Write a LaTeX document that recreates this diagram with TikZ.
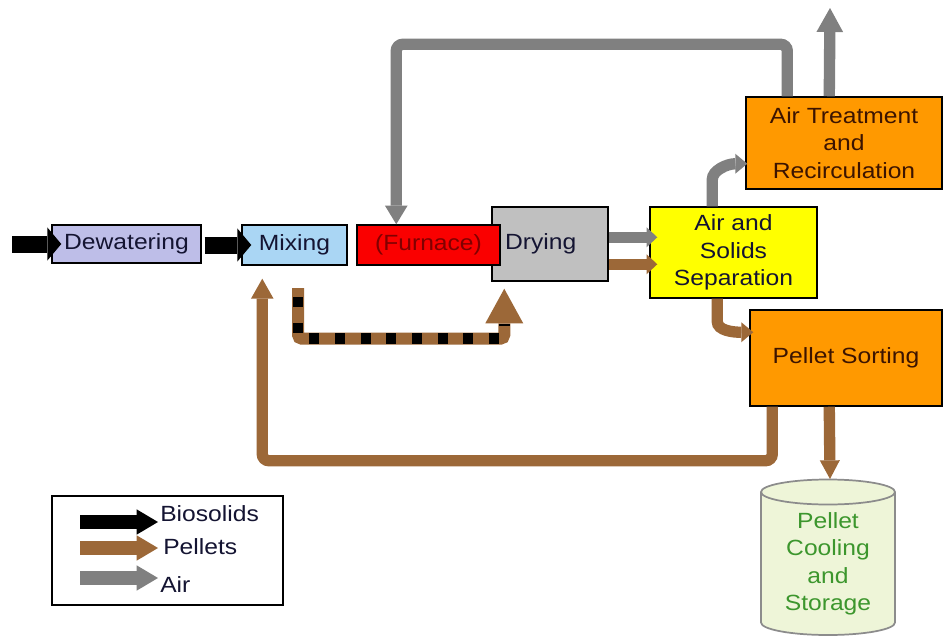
\documentclass[tikz,border=0pt]{standalone}
\usepackage{fontspec}
\setmainfont{Liberation Sans}[FakeStretch=1.12]
\usetikzlibrary{arrows.meta,calc}
\definecolor{brn}{RGB}{156,104,56}
\definecolor{gry}{RGB}{128,128,128}
\definecolor{dewfill}{RGB}{190,190,232}
\definecolor{mixfill}{RGB}{170,214,244}
\definecolor{furnfill}{RGB}{250,0,0}
\definecolor{furntext}{RGB}{128,0,0}
\definecolor{dryfill}{RGB}{192,192,192}
\definecolor{sepfill}{RGB}{255,255,0}
\definecolor{orng}{RGB}{255,153,0}
\definecolor{orngtext}{RGB}{60,20,0}
\definecolor{cylfill}{RGB}{238,245,216}
\definecolor{cylline}{RGB}{140,140,140}
\definecolor{cyltext}{RGB}{60,150,45}
\definecolor{navytext}{RGB}{20,20,50}
\begin{document}
\begin{tikzpicture}[x=0.75pt,y=-0.75pt,
  box/.style={draw=black, line width=1.1pt, inner sep=0pt, align=center,
    text=navytext, font=\fontsize{16.5}{20.6}\selectfont},
  lbl/.style={inner sep=0pt, text=navytext, font=\fontsize{16.5}{20.6}\selectfont},
  blkarrow/.style={line width=12.75pt, draw=black, -{Triangle[width=25pt,length=10.5pt,line width=0pt]}},
  gryflow/.style={line width=8.5pt, draw=gry, rounded corners=5pt},
  brnflow/.style={line width=8.5pt, draw=brn, rounded corners=5pt},
  legarrow/.style={line width=11pt, -{Triangle[width=19pt,length=16pt,line width=0pt]}}]
\useasboundingbox[fill=white] (0,0) rectangle (943,639);

% process boxes
\node[box, fill=dewfill, minimum width=111.75pt, minimum height=28.5pt] (dew) at (126.5,244) {Dewatering};
\node[box, fill=mixfill, minimum width=78.75pt, minimum height=30pt] (mix) at (294.5,245) {Mixing};
\node[box, fill=dryfill, minimum width=87pt, minimum height=55.5pt] (dry) at (550,244) {\hspace*{6pt}Drying\hspace*{20pt}};
\node[box, fill=furnfill, text=furntext, minimum width=107.25pt, minimum height=30pt] (furn) at (428.5,245) {(Furnace)};
\node[box, fill=sepfill, minimum width=125.25pt, minimum height=68.25pt] (sep) at (733.5,252.5) {Air and\\Solids\\Separation};
\node[box, fill=orng, text=orngtext, minimum width=147pt, minimum height=69pt] (air) at (844,143) {Air Treatment\\and\\Recirculation};
\node[box, fill=orng, text=orngtext, minimum width=144pt, minimum height=72pt] (sort) at (846,358) {Pellet Sorting};

% storage cylinder
\fill[cylfill] (761,492) rectangle (895,622.5);
\fill[cylfill] (828,622.5) ellipse [x radius=67, y radius=12.5];
\draw[cylline, line width=1.3pt] (761,492) -- (761,622.5)
  arc[start angle=180, end angle=0, x radius=67, y radius=12.5] -- (895,492);
\draw[cylline, line width=1.3pt, fill=cylfill] (828,492) ellipse [x radius=67, y radius=12.5];
\node[lbl, text=cyltext, align=center] (cyl) at (828,564) {Pellet\\Cooling\\and\\Storage};
\coordinate (cyltop) at (830,479);

% legend
\node[draw=black, line width=1.1pt, minimum width=173.25pt, minimum height=81.75pt] (legend) at (167.5,550.5) {};
\coordinate (lbs) at (80,522); \coordinate (lbe) at (158,522);
\coordinate (lps) at (80,548); \coordinate (lpe) at (158,548);
\coordinate (las) at (80,578); \coordinate (lae) at (158,578);
\draw[legarrow, draw=black] (lbs) -- (lbe);
\draw[legarrow, draw=brn] (lps) -- (lpe);
\draw[legarrow, draw=gry] (las) -- (lae);
\node[lbl, anchor=west] (tbio) at (160,514) {Biosolids};
\node[lbl, anchor=west] (tpel) at (163,547) {Pellets};
\node[lbl, anchor=west] (tair) at (160,585) {Air};

% biosolids flow
\coordinate (bin) at (12,244);
\draw[blkarrow] (bin) -- ($(dew.west)+(10,0)$);
\draw[blkarrow] ($(dew.east)+(3,1)$) -- ($(mix.west)+(10,0)$);

% air flows
\draw[gryflow, -{Triangle[width=17pt,length=14pt,line width=0pt]}]
  ($(air.north west)+(42,0)$) -- ++(0,-52) -| ($(furn.north west)+(40,0)$);
\coordinate (exhaust) at (830,8);
\draw[gryflow, -{Triangle[width=20pt,length=18pt,line width=0pt]}]
  ($(air.north west)+(84,0)$) -- (exhaust);
\draw[gryflow, -{Triangle[width=15pt,length=9pt,line width=0pt]}]
  ($(sep.north west)+(63,0)$) -- ++(0,-20) .. controls +(0,-16) and +(-20,0) .. ($(air.south west)+(2,-26)$);
\draw[gryflow, -{Triangle[width=15pt,length=8pt,line width=0pt]}]
  ($(dry.north east)+(0,31)$) -- ($(sep.north west)+(8,31)$);

% pellet flows
\draw[brnflow, -{Triangle[width=15pt,length=8pt,line width=0pt]}]
  ($(dry.north east)+(0,58)$) -- ($(sep.north west)+(8,58)$);
\draw[brnflow, -{Triangle[width=15pt,length=9pt,line width=0pt]}]
  ($(sep.south west)+(68,0)$) -- ++(0,16) .. controls +(0,16) and +(-20,0) .. ($(sort.north west)+(4,23)$);
\draw[brnflow, -{Triangle[width=17pt,length=15pt,line width=0pt]}]
  ($(sort.south west)+(23,0)$) -- ++(0,54) -| ($(mix.south west)+(21,13)$);
\draw[brnflow, -{Triangle[width=15pt,length=14pt,line width=0pt]}]
  ($(sort.south west)+(80,0)$) -- (cyltop);

% mixed (dashed) recycle to drying
\coordinate (dstart) at (298,288);
\draw[brnflow, line width=9pt, rounded corners=3pt, -{Triangle[width=28.5pt,length=26pt,line width=0pt]}]
  (dstart) |- ($(dry.south west)+(13,57)$) -- ($(dry.south west)+(13,7)$);
\draw[black, line width=8pt, rounded corners=3pt, dash pattern=on 7.5pt off 11.75pt, dash phase=12.5pt]
  (dstart) |- ($(dry.south west)+(13,57)$) -- ($(dry.south west)+(13,42)$);
\end{tikzpicture}
\end{document}
